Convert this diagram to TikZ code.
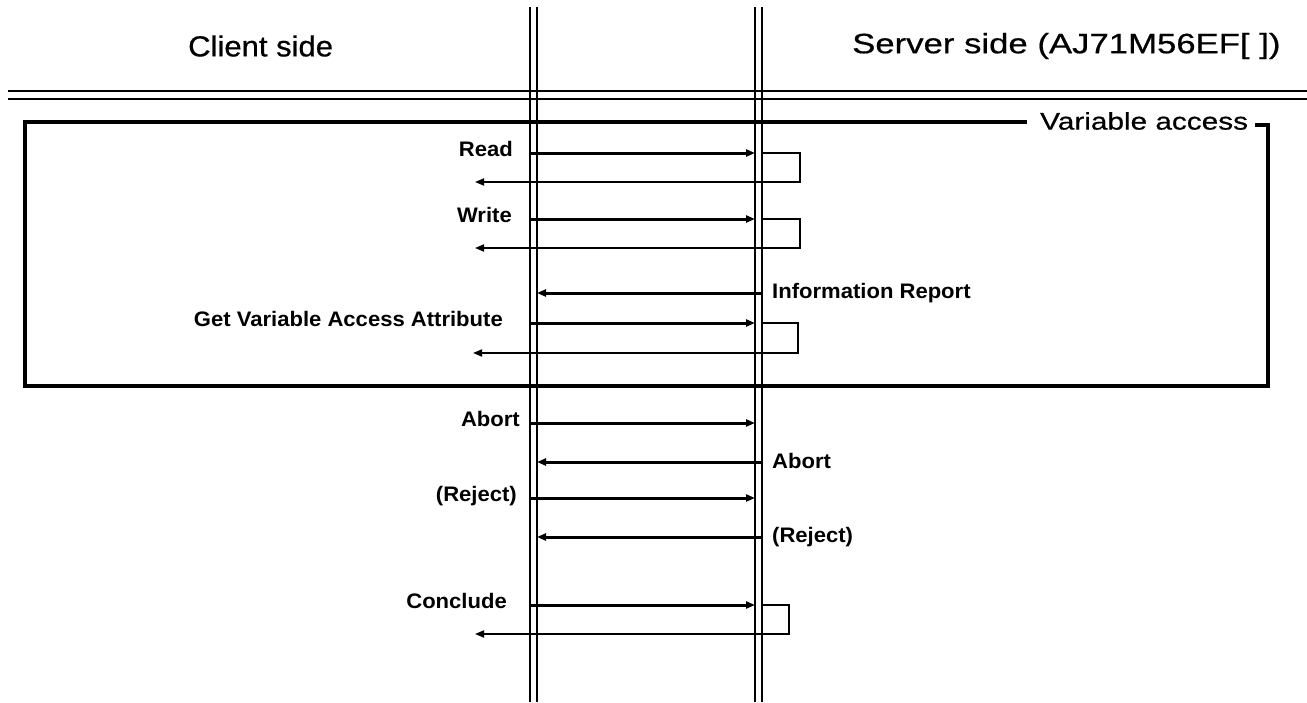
\documentclass[tikz,border=0pt]{standalone}
\usepackage{fontspec}
\usetikzlibrary{arrows.meta}
\newfontfamily\clientfont[FakeStretch=1.07,FakeBold=0.6]{Liberation Sans}
\newfontfamily\headfont[FakeStretch=1.24,FakeBold=0.6]{Liberation Sans}
\newfontfamily\msgfont[FakeStretch=1.05]{Liberation Sans Bold}

\tikzset{
  lifeline/.style={line width=2.2pt},
  rail/.style={line width=2pt},
  frameline/.style={line width=3.4pt},
  msg/.style={line width=3pt, -{Triangle[length=9pt,width=7pt]}},
  reply/.style={line width=1.8pt, -{Triangle[length=9pt,width=7pt]}},
  head/.style={inner sep=0pt, font=\headfont\fontsize{28}{32}\selectfont},
  clienthead/.style={inner sep=0pt, font=\clientfont\fontsize{29}{33}\selectfont},
  grouplabel/.style={inner sep=0pt, font=\headfont\fontsize{24}{28}\selectfont},
  msglabel/.style={inner sep=0pt, font=\msgfont\fontsize{21}{25}\selectfont},
}

\begin{document}
\begin{tikzpicture}[x=1pt,y=-1pt]
\useasboundingbox (0,0) rectangle (1307,702);

% column headings
\node[clienthead, anchor=west] (client) at (188,46) {Client side};
\node[head, anchor=west] (server) at (852,46) {Server side (AJ71M56EF[ ])};

% double rule under the headings
\coordinate (ruleAl) at (8,91);   \coordinate (ruleAr) at (1307,91);
\coordinate (ruleBl) at (8,99);   \coordinate (ruleBr) at (1307,99);
\draw[rail] (ruleAl) -- (ruleAr);
\draw[rail] (ruleBl) -- (ruleBr);

% lifelines (pairs of vertical lines)
\coordinate (cAt) at (530,7);   \coordinate (cAb) at (530,702);
\coordinate (cBt) at (537,7);   \coordinate (cBb) at (537,702);
\coordinate (sAt) at (755,7);   \coordinate (sAb) at (755,702);
\coordinate (sBt) at (762,7);   \coordinate (sBb) at (762,702);
\draw[lifeline] (cAt) -- (cAb);
\draw[lifeline] (cBt) -- (cBb);
\draw[lifeline] (sAt) -- (sAb);
\draw[lifeline] (sBt) -- (sBb);

% "Variable access" group frame
\node[grouplabel, anchor=west] (grp) at (1040,121) {Variable access};
\coordinate (fTL) at (25,122);   \coordinate (fBL) at (25,386);
\coordinate (fBR) at (1268,386); \coordinate (fTR) at (1268,125);
\coordinate (fGapL) at (1027,122); \coordinate (fGapR) at (1255,125);
\draw[frameline] (fGapL) -- (fTL) -- (fBL) -- (fBR) -- (fTR) -- (fGapR);

% Read
\node[msglabel, anchor=base east] (lRead) at (513,156.5) {Read};
\coordinate (m1a) at (530,153); \coordinate (m1b) at (755,153);
\coordinate (r1a) at (762,153); \coordinate (r1b) at (800,153);
\coordinate (r1c) at (800,182); \coordinate (r1d) at (475,182);
\draw[msg] (m1a) -- (m1b);
\draw[reply] (r1a) -- (r1b) -- (r1c) -- (r1d);

% Write
\node[msglabel, anchor=base east] (lWrite) at (512,222.5) {Write};
\coordinate (m2a) at (530,219); \coordinate (m2b) at (755,219);
\coordinate (r2a) at (762,219); \coordinate (r2b) at (800,219);
\coordinate (r2c) at (800,248); \coordinate (r2d) at (475,248);
\draw[msg] (m2a) -- (m2b);
\draw[reply] (r2a) -- (r2b) -- (r2c) -- (r2d);

% Information Report (server to client)
\node[msglabel, anchor=west] (lInfo) at (772,293) {Information Report};
\coordinate (m3a) at (762,293); \coordinate (m3b) at (537,293);
\draw[msg] (m3a) -- (m3b);

% Get Variable Access Attribute
\node[msglabel, anchor=base east] (lGet) at (503,326.5) {Get Variable Access Attribute};
\coordinate (m4a) at (530,323); \coordinate (m4b) at (755,323);
\coordinate (r4a) at (762,323); \coordinate (r4b) at (798,323);
\coordinate (r4c) at (798,353); \coordinate (r4d) at (473,353);
\draw[msg] (m4a) -- (m4b);
\draw[reply] (r4a) -- (r4b) -- (r4c) -- (r4d);

% Abort (client to server)
\node[msglabel, anchor=base east] (lAbortC) at (520,426.5) {Abort};
\coordinate (m5a) at (530,423); \coordinate (m5b) at (755,423);
\draw[msg] (m5a) -- (m5b);

% Abort (server to client)
\node[msglabel, anchor=west] (lAbortS) at (772,461) {Abort};
\coordinate (m6a) at (762,462); \coordinate (m6b) at (537,462);
\draw[msg] (m6a) -- (m6b);

% (Reject) client to server
\node[msglabel, anchor=base east] (lRejC) at (517,501.5) {(Reject)};
\coordinate (m7a) at (530,498); \coordinate (m7b) at (755,498);
\draw[msg] (m7a) -- (m7b);

% (Reject) server to client
\node[msglabel, anchor=west] (lRejS) at (772,537) {(Reject)};
\coordinate (m8a) at (762,537); \coordinate (m8b) at (537,537);
\draw[msg] (m8a) -- (m8b);

% Conclude
\node[msglabel, anchor=base east] (lConc) at (507,608.5) {Conclude};
\coordinate (m9a) at (530,605); \coordinate (m9b) at (755,605);
\coordinate (r9a) at (762,605); \coordinate (r9b) at (789,605);
\coordinate (r9c) at (789,634); \coordinate (r9d) at (475,634);
\draw[msg] (m9a) -- (m9b);
\draw[reply] (r9a) -- (r9b) -- (r9c) -- (r9d);
\end{tikzpicture}
\end{document}
